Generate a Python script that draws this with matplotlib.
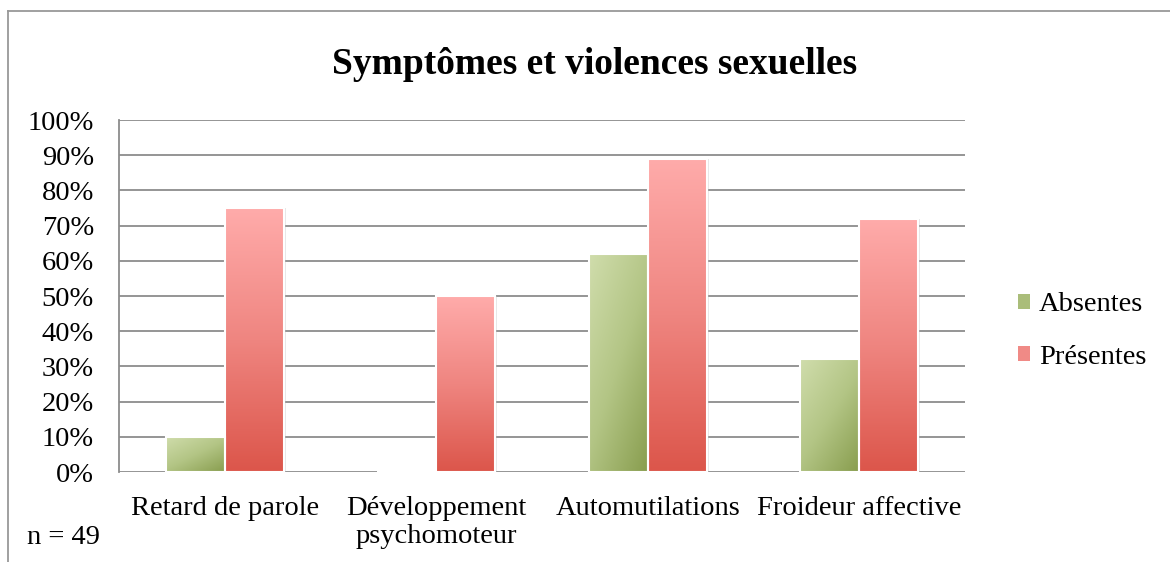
import numpy as np
import matplotlib
matplotlib.use("Agg")
import matplotlib.pyplot as plt
from matplotlib.colors import LinearSegmentedColormap
from matplotlib.patches import Patch
from matplotlib.lines import Line2D

categories = ["Retard de parole", "Développement\npsychomoteur", "Automutilations", "Froideur affective"]
absentes = [10, 0, 62, 32]
presentes = [75, 50, 89, 72]
series_names = ["Absentes", "Présentes"]
yticks = [0, 10, 20, 30, 40, 50, 60, 70, 80, 90, 100]
ytick_labels = [f"{v}%" for v in yticks]
title = "Symptômes et violences sexuelles"
note = "n = 49"

plt.rcParams['font.family'] = ['Liberation Serif', 'DejaVu Serif']

fig = plt.figure(figsize=(11.7, 5.62), dpi=100)
ax = fig.add_axes([119/1170, 90/562, 846/1170, 352/562])

x = np.arange(len(categories))
w = 0.28
b1 = ax.bar(x - w/2, absentes, w, facecolor='none', edgecolor='white', linewidth=1.5, zorder=4)
b2 = ax.bar(x + w/2, presentes, w, facecolor='none', edgecolor='white', linewidth=1.5, zorder=4)

green_cmap = LinearSegmentedColormap.from_list('g', ['#d0ddac', '#b3c585', '#889d4e'])
red_cmap = LinearSegmentedColormap.from_list('r', ['#ffabaa', '#ef8580', '#dc564b'])

n = 100
u = np.linspace(0, 1, n)
U, V = np.meshgrid(u, u)  # V: 0 at top row
green_grad = 0.55 * V + 0.45 * U
red_grad = V

for bars, grad, cmap in [(b1, green_grad, green_cmap), (b2, red_grad, red_cmap)]:
    for bar in bars:
        h = bar.get_height()
        if h <= 0:
            continue
        x0, y0 = bar.get_xy()
        bw = bar.get_width()
        sh = plt.Rectangle((x0 + 0.008, y0), bw, h, facecolor='#bbbbbb', alpha=0.35,
                           edgecolor='none', zorder=2.5)
        ax.add_patch(sh)
        im = ax.imshow(grad, extent=[x0, x0 + bw, y0, y0 + h], aspect='auto',
                       cmap=cmap, vmin=0, vmax=1, zorder=3, origin='upper',
                       interpolation='bilinear')
        im.set_clip_path(bar)

ax.set_xlim(-0.5, len(categories) - 0.5)
ax.set_ylim(0, 100)
ax.set_yticks(yticks)
ax.set_yticklabels(ytick_labels)
ax.set_xticks(x)
ax.set_xticklabels(categories, linespacing=1.2)
ax.tick_params(axis='y', length=0, pad=18, labelsize=20.5)
ax.tick_params(axis='x', length=0, pad=17, labelsize=20.5)

ax.yaxis.grid(True, color='#8c8c8c', linewidth=1.3, zorder=1)
ax.set_axisbelow(True)
for s in ['top', 'right', 'bottom']:
    ax.spines[s].set_visible(False)
ax.spines['left'].set_color('#8c8c8c')
ax.spines['left'].set_linewidth(1.3)

handles = [Patch(facecolor='#aabd7a', edgecolor='none'),
           Patch(facecolor='#f08a86', edgecolor='none')]
fig.legend(handles, series_names, loc='center left',
           bbox_to_anchor=(992/1170, 1 - 331/562), frameon=False,
           fontsize=20.5, handlelength=0.45, handleheight=0.45,
           handletextpad=0.3, labelspacing=0.95)

fig.text(595/1170, 1 - 65/562, title, ha='center', va='center',
         fontsize=27, fontweight='bold')
fig.text(27/1170, 1 - 537/562, note, ha='left', va='center', fontsize=20.5)

fig.add_artist(Line2D([8/1170, 8/1170], [0, 1 - 11/562], transform=fig.transFigure,
                      color='#999999', linewidth=1.3))
fig.add_artist(Line2D([8/1170, 1], [1 - 11/562, 1 - 11/562], transform=fig.transFigure,
                      color='#999999', linewidth=1.3))

fig.savefig('out.png', dpi=100)
